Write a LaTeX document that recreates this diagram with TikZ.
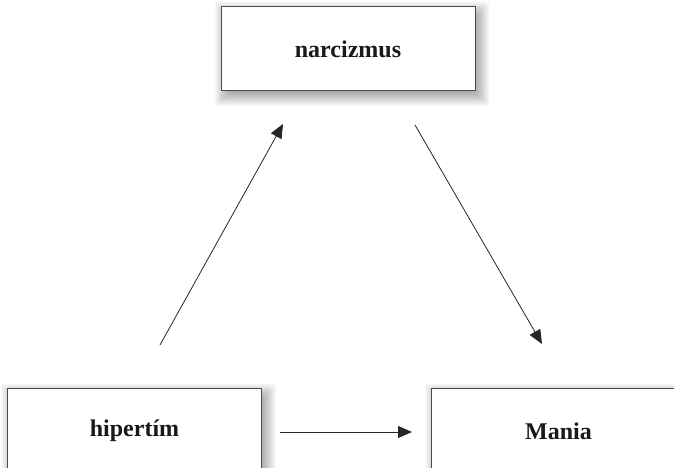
\documentclass[tikz,border=0pt]{standalone}
\usepackage{fontspec}
\setmainfont{Liberation Serif}
\usetikzlibrary{arrows.meta,backgrounds}
\tikzset{
  box/.style={draw=black!70, line width=1pt, fill=white, minimum width=254pt, minimum height=84pt,
    inner sep=0pt, font=\bfseries\fontsize{24}{28}\selectfont, text=black!90},
  shadowlayer/.style={fill=black, opacity=0.024, rounded corners=3pt},
  conn/.style={draw=black!85, line width=0.8pt, -{Triangle[length=14pt,width=12pt]}}
}
\newcommand{\softshadow}[1]{%
  \foreach \d in {10,9,...,-8}{%
    \fill[shadowlayer] ([shift={(4pt-\d pt,-5pt-\d pt)}]#1.south west) rectangle ([shift={(4pt+\d pt,-5pt+\d pt)}]#1.north east);
  }}
\begin{document}
\begin{tikzpicture}[x=1pt,y=1pt]
\useasboundingbox (0,0) rectangle (674,468);
\clip (0,0) rectangle (674,468);
\node[box] (narc) at (348,419) {narcizmus};
\node[box] (hip) at (134.5,37) {hipertím};
\node[box] (mania) at (558.5,37) {Mania};
\begin{scope}[on background layer]
  \fill[white] (0,0) rectangle (674,468);
  \softshadow{narc}
  \softshadow{hip}
  \softshadow{mania}
\end{scope}
\coordinate (a1s) at (160,123);
\coordinate (a1e) at (283,344);
\coordinate (a2s) at (415,343);
\coordinate (a2e) at (542,124);
\coordinate (a3s) at (280,36);
\coordinate (a3e) at (412,36);
\draw[conn] (a1s) -- (a1e);
\draw[conn] (a2s) -- (a2e);
\draw[conn] (a3s) -- (a3e);
\end{tikzpicture}
\end{document}
